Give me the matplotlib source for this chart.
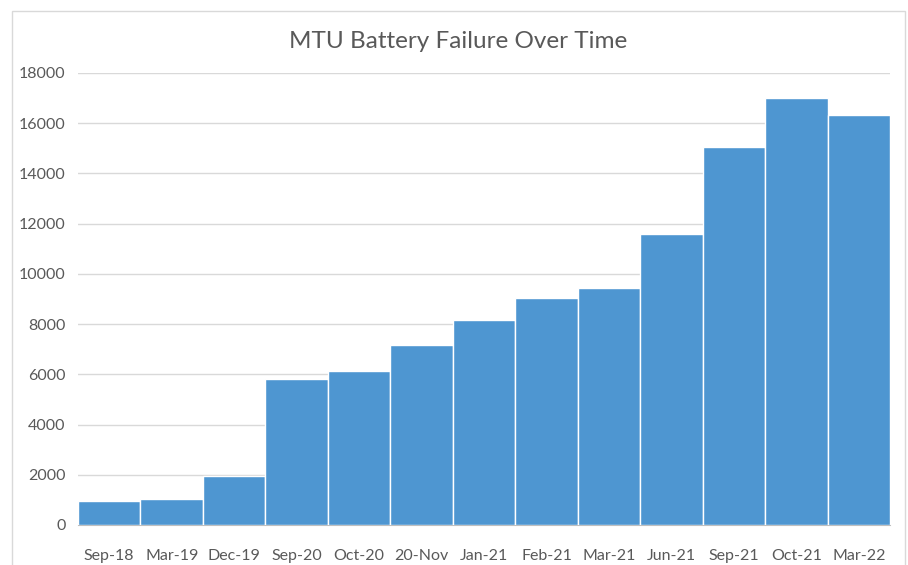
import matplotlib.pyplot as plt
from matplotlib.patches import Rectangle

months = ["Sep-18", "Mar-19", "Dec-19", "Sep-20", "Oct-20", "20-Nov", "Jan-21",
          "Feb-21", "Mar-21", "Jun-21", "Sep-21", "Oct-21", "Mar-22"]
failures = [960, 1030, 1970, 5800, 6140, 7180, 8170,
            9030, 9430, 11580, 15070, 16990, 16310]
y_ticks = [0, 2000, 4000, 6000, 8000, 10000, 12000, 14000, 16000, 18000]

BAR_COLOR = "#4E96D1"
TEXT_COLOR = "#595959"

plt.rcParams['font.family'] = ['Lato', 'DejaVu Sans']

fig = plt.figure(figsize=(9.08, 5.65), dpi=100)
# light chart-area border like the spreadsheet export
fig.patches.append(Rectangle((12 / 908, -0.01), 893 / 908, 1 - 11 / 565 + 0.01,
                             transform=fig.transFigure, fill=False,
                             edgecolor="#D9D9D9", linewidth=1))

ax = fig.add_axes([78 / 908, 1 - 525 / 565, 812 / 908, 452 / 565])
x = range(len(months))
ax.bar(x, failures, width=1.0, color=BAR_COLOR, edgecolor="white", linewidth=1, zorder=3)

ax.set_xlim(-0.5, len(months) - 0.5)
ax.set_ylim(0, 18000)
ax.set_yticks(y_ticks)
ax.set_yticklabels([str(v) for v in y_ticks])
ax.set_xticks(list(x))
ax.set_xticklabels(months)

ax.grid(axis="y", color="#D9D9D9", linewidth=1, zorder=0)
for side in ["top", "right", "left"]:
    ax.spines[side].set_visible(False)
ax.spines["bottom"].set_color("#BFBFBF")
ax.tick_params(axis="both", length=0, labelsize=11.5, colors=TEXT_COLOR)
ax.tick_params(axis="x", pad=17)
ax.tick_params(axis="y", pad=9)

fig.text(0.505, 1 - 42 / 565, "MTU Battery Failure Over Time", ha="center", va="center",
         fontsize=17.5, color=TEXT_COLOR)

fig.savefig("out.png", dpi=100)
